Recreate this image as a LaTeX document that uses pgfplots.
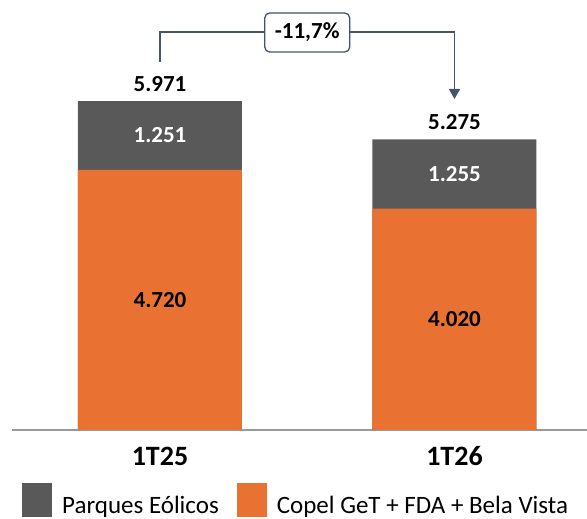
\documentclass[border=0pt]{standalone}
\usepackage{pgfplots}
\pgfplotsset{compat=1.18}
\usepackage{fontspec}
\setmainfont{Carlito}
\usetikzlibrary{arrows.meta}

\definecolor{eolgray}{HTML}{595959}
\definecolor{copelorange}{HTML}{E97132}
\definecolor{brk}{HTML}{44546A}
\definecolor{axgray}{HTML}{9A9A9A}

\newcommand{\lbl}{\fontsize{23}{27}\selectfont\bfseries}

\begin{document}
\begin{tikzpicture}
\path[use as bounding box] (-12pt,-89pt) rectangle (575pt,430pt);
\begin{axis}[
  name=ax,
  at={(0,0)}, anchor=south west,
  scale only axis,
  width=575pt, height=430pt,
  xmin=-0.5025, xmax=1.45,
  ymin=0, ymax=7805,
  clip=false,
  ybar, bar width=164pt, bar shift=0pt,
  axis x line*=bottom,
  axis y line=none,
  x axis line style={-, color=axgray, line width=1.6pt},
  xtick={0,1},
  xticklabels={1T25,1T26},
  major tick length=0pt,
  xticklabel style={font=\fontsize{28}{32}\selectfont\bfseries, anchor=base, yshift=-36pt},
  legend columns=2,
  legend style={
    at={(0.0174,-0.1630)}, anchor=west,
    draw=none, fill=none, inner sep=0pt,
    font=\fontsize{25}{30}\selectfont,
    column sep=10pt,
    /tikz/every even column/.append style={column sep=18pt},
    nodes={inner sep=0pt},
  },
]
% total height (gray) drawn first, orange part on top
\addplot[fill=eolgray, draw=none,
  legend image code/.code={\fill[eolgray] (0pt,-12pt) rectangle (30pt,22pt);},
  nodes near coords, point meta=explicit symbolic,
  every node near coord/.append style={font=\lbl, text=black, anchor=base, yshift=10pt}]
  coordinates {(0,5971)[5.971] (1,5275)[5.275]};
\addlegendentry{Parques Eólicos}
\addplot[fill=copelorange, draw=none,
  legend image code/.code={\fill[copelorange] (0pt,-12pt) rectangle (30pt,22pt);}]
  coordinates {(0,4720) (1,4020)};
\addlegendentry{Copel GeT + FDA + Bela Vista}
% segment labels
\addplot[draw=none, fill=none, forget plot,
  nodes near coords, point meta=explicit symbolic,
  every node near coord/.append style={font=\lbl, text=white, anchor=center, inner sep=0pt}]
  coordinates {(0,5345)[1.251] (1,4647)[1.255]};
\addplot[draw=none, fill=none, forget plot,
  nodes near coords, point meta=explicit symbolic,
  every node near coord/.append style={font=\lbl, text=black, anchor=center, inner sep=0pt}]
  coordinates {(0,2360)[4.720] (1,2010)[4.020]};
% variation bracket
\draw[brk, line width=1.3pt] (axis cs:0,6679) -- (axis cs:0,7224) -- (axis cs:1,7224)
  -- (axis cs:1,6230);
\draw[brk, line width=1.3pt, -{Triangle[width=11pt,length=10pt]}] (axis cs:1,6300) -- (axis cs:1,6008);
\node[draw=brk, fill=white, line width=1.3pt, rounded corners=5pt,
  minimum width=85pt, minimum height=39pt, inner sep=0pt,
  font=\fontsize{23}{27}\selectfont\bfseries] at (axis cs:0.5,7215) {-11,7\%};
\end{axis}
\end{tikzpicture}
\end{document}
